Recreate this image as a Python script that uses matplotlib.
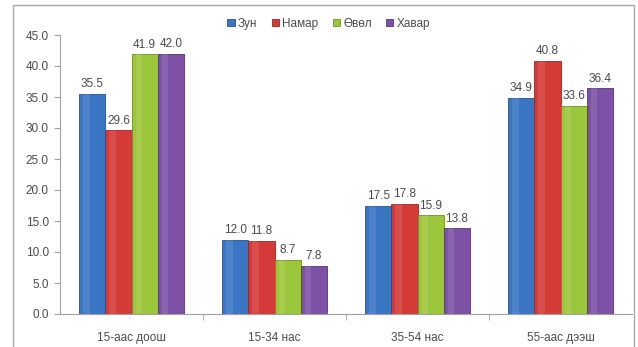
import numpy as np
import matplotlib.pyplot as plt
from matplotlib.patches import Rectangle

plt.rcParams['font.family'] = ['Liberation Sans', 'DejaVu Sans']

categories = ["15-аас доош", "15-34 нас", "35-54 нас", "55-аас дээш"]
seasons = ["Зун", "Намар", "Өвөл", "Хавар"]
zun = [35.5, 12.0, 17.5, 34.9]
namar = [29.6, 11.8, 17.8, 40.8]
ovol = [41.9, 8.7, 15.9, 33.6]
khavar = [42.0, 7.8, 13.8, 36.4]
yticks = [0, 5, 10, 15, 20, 25, 30, 35, 40, 45]

colors = ["#3a76c4", "#d43a38", "#9cc63c", "#7d52a6"]
edges = ["#24528f", "#9a2422", "#6d8f22", "#553578"]

fig = plt.figure(figsize=(6.38, 3.47), dpi=100)
# outer chart frame, runs off the bottom of the picture
fig.patches.append(Rectangle((13 / 638, -0.05), 621 / 638, 1.05 - 5 / 347,
                             transform=fig.transFigure, fill=False,
                             edgecolor="#a8a8a8", linewidth=1.0))
ax = fig.add_axes([60 / 638, 1 - 314 / 347, 572 / 638, 279 / 347])

x = np.arange(len(categories))
w = 0.183
series = [zun, namar, ovol, khavar]
for i, vals in enumerate(series):
    pos = x + (i - 1.5) * w
    bars = ax.bar(pos, vals, w, color=colors[i], edgecolor=edges[i],
                  linewidth=0.6, label=seasons[i], zorder=2)
    # light highlight strip to suggest the glossy look
    ax.bar(pos - w * 0.22, vals, w * 0.25, color="white", alpha=0.1,
           linewidth=0, zorder=3)
    for b, v in zip(bars, vals):
        ax.text(b.get_x() + b.get_width() / 2, v + 0.6, f"{v:.1f}",
                ha="center", va="bottom", fontsize=8.5, color="#4a4a4a")

ax.set_xlim(-0.5, len(categories) - 0.5)
ax.set_ylim(0, 45)
ax.set_yticks(yticks)
ax.set_yticklabels([f"{t:.1f}" for t in yticks], fontsize=8.5, color="#4a4a4a")
ax.set_xticks(x)
ax.set_xticklabels(categories, fontsize=8.5, color="#4a4a4a")
ax.tick_params(axis="x", length=0, pad=13)
ax.tick_params(axis="y", length=4, color="#a0a0a0", pad=4)
ax.set_xticks(np.arange(0.5, len(categories) - 0.5), minor=True)
ax.tick_params(axis="x", which="minor", length=4, color="#a0a0a0")
for s in ["top", "right"]:
    ax.spines[s].set_visible(False)
for s in ["left", "bottom"]:
    ax.spines[s].set_color("#a0a0a0")

leg = ax.legend(loc="upper center", bbox_to_anchor=(0.47, 1.10), ncol=4,
                frameon=False, fontsize=8.5, handlelength=0.6, handleheight=0.6,
                columnspacing=1.2, handletextpad=0.3)
for t in leg.get_texts():
    t.set_color("#4a4a4a")

fig.savefig("out.png", dpi=100)
